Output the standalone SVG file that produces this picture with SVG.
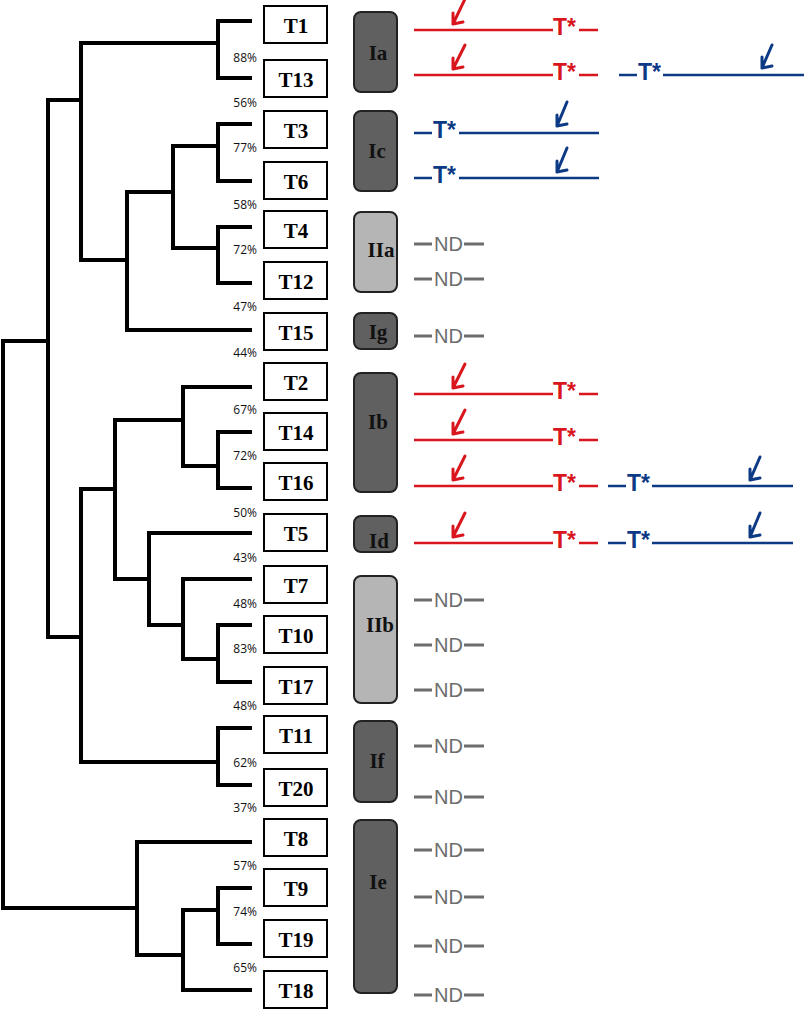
<svg xmlns="http://www.w3.org/2000/svg" width="805" height="1010" viewBox="0 0 805 1010">
<defs>
<style>
.tree{fill:none;stroke:#000;stroke-width:4;stroke-linejoin:miter;stroke-linecap:butt}
.leaf rect{fill:#fff;stroke:#000;stroke-width:2}
.leaf text{font-family:"Liberation Serif",serif;font-weight:bold;font-size:21px;text-anchor:middle;fill:#000}
.pct{font-family:"Open Sans","DejaVu Sans",sans-serif;font-size:12px;text-anchor:end;fill:#111}
.grp rect{stroke:#222;stroke-width:2}
.dark{fill:#606060}
.light{fill:#b5b5b5}
.grp text{font-family:"Liberation Serif",serif;font-weight:bold;font-size:21px;text-anchor:middle;fill:#111}
.red{stroke:#d9161e;fill:none;stroke-width:2.5}
.blue{stroke:#0d3a85;fill:none;stroke-width:2.5}
.arr{stroke-width:3;stroke-linecap:round;stroke-linejoin:round}
.tr{fill:#d9161e;font-family:"Liberation Sans",Arial,sans-serif;font-weight:bold;font-size:23px}
.tb{fill:#0d3a85;font-family:"Liberation Sans",Arial,sans-serif;font-weight:bold;font-size:23px}
.nd{fill:#6d6d6d;font-family:"Liberation Sans",Arial,sans-serif;font-size:20px}
.ndl{stroke:#6d6d6d;stroke-width:3}
</style>
</defs>
<rect width="805" height="1010" fill="#fff"/>
<g id="connectors" class="tree">
<path d="M252,21 H218 V78 H252"/>
<path d="M81,43 H218"/>
<path d="M252,124 H218 V181 H252"/>
<path d="M252,227 H218 V283 H252"/>
<path d="M218,146 H173 V248 H218"/>
<path d="M173,192 H127 V330 H252"/>
<path d="M218,43 H81 V260 H127"/>
<path d="M81,100 H48 V637 H81"/>
<path d="M48,341 H3 V908 H137"/>
<path d="M115,489 H81 V762 H218"/>
<path d="M183,420 H115 V579 H149"/>
<path d="M252,387 H183 V466 H218"/>
<path d="M252,432 H218 V488 H252"/>
<path d="M252,533 H149 V625 H183"/>
<path d="M252,579 H183 V659 H218"/>
<path d="M252,625 H218 V682 H252"/>
<path d="M252,728 H218 V785 H252"/>
<path d="M252,842 H137 V955 H183"/>
<path d="M218,910 H183 V990 H252"/>
<path d="M252,888 H218 V944 H252"/>
</g>
<g id="support">
<text class="pct" x="257" y="62">88%</text>
<text class="pct" x="257" y="107">56%</text>
<text class="pct" x="257" y="152">77%</text>
<text class="pct" x="257" y="209">58%</text>
<text class="pct" x="257" y="254">72%</text>
<text class="pct" x="257" y="311">47%</text>
<text class="pct" x="257" y="357">44%</text>
<text class="pct" x="257" y="414">67%</text>
<text class="pct" x="257" y="460">72%</text>
<text class="pct" x="257" y="517">50%</text>
<text class="pct" x="257" y="562">43%</text>
<text class="pct" x="257" y="608">48%</text>
<text class="pct" x="257" y="653">83%</text>
<text class="pct" x="257" y="710">48%</text>
<text class="pct" x="257" y="767">62%</text>
<text class="pct" x="257" y="812">37%</text>
<text class="pct" x="257" y="870">57%</text>
<text class="pct" x="257" y="916">74%</text>
<text class="pct" x="257" y="972">65%</text>
</g>
<g id="T1" class="leaf"><rect x="264" y="6" width="63" height="37"/><text x="296" y="33">T1</text></g>
<g id="T13" class="leaf"><rect x="264" y="60" width="63" height="37"/><text x="296" y="87">T13</text></g>
<g id="T3" class="leaf"><rect x="264" y="111" width="63" height="37"/><text x="296" y="138">T3</text></g>
<g id="T6" class="leaf"><rect x="264" y="162" width="63" height="37"/><text x="296" y="189">T6</text></g>
<g id="T4" class="leaf"><rect x="264" y="211" width="63" height="37"/><text x="296" y="238">T4</text></g>
<g id="T12" class="leaf"><rect x="264" y="262" width="63" height="37"/><text x="296" y="289">T12</text></g>
<g id="T15" class="leaf"><rect x="264" y="313" width="63" height="37"/><text x="296" y="340">T15</text></g>
<g id="T2" class="leaf"><rect x="264" y="363" width="63" height="37"/><text x="296" y="390">T2</text></g>
<g id="T14" class="leaf"><rect x="264" y="413" width="63" height="37"/><text x="296" y="440">T14</text></g>
<g id="T16" class="leaf"><rect x="264" y="463" width="63" height="37"/><text x="296" y="490">T16</text></g>
<g id="T5" class="leaf"><rect x="264" y="514" width="63" height="37"/><text x="296" y="541">T5</text></g>
<g id="T7" class="leaf"><rect x="264" y="566" width="63" height="37"/><text x="296" y="593">T7</text></g>
<g id="T10" class="leaf"><rect x="264" y="616" width="63" height="37"/><text x="296" y="643">T10</text></g>
<g id="T17" class="leaf"><rect x="264" y="667" width="63" height="37"/><text x="296" y="694">T17</text></g>
<g id="T11" class="leaf"><rect x="264" y="716" width="63" height="37"/><text x="296" y="743">T11</text></g>
<g id="T20" class="leaf"><rect x="264" y="769" width="63" height="37"/><text x="296" y="796">T20</text></g>
<g id="T8" class="leaf"><rect x="264" y="819" width="63" height="37"/><text x="296" y="846">T8</text></g>
<g id="T9" class="leaf"><rect x="264" y="869" width="63" height="37"/><text x="296" y="896">T9</text></g>
<g id="T19" class="leaf"><rect x="264" y="920" width="63" height="37"/><text x="296" y="947">T19</text></g>
<g id="T18" class="leaf"><rect x="264" y="971" width="63" height="37"/><text x="296" y="998">T18</text></g>
<g id="Ia" class="grp"><rect class="dark" x="354" y="12" width="43" height="80" rx="7"/><text x="378" y="60">Ia</text></g>
<g id="Ic" class="grp"><rect class="dark" x="354" y="111" width="43" height="80" rx="7"/><text x="377" y="158">Ic</text></g>
<g id="IIa" class="grp"><rect class="light" x="354" y="212" width="43" height="80" rx="7"/><text x="381" y="257">IIa</text></g>
<g id="Ig" class="grp"><rect class="dark" x="354" y="313" width="43" height="36" rx="7"/><text x="378" y="339">Ig</text></g>
<g id="Ib" class="grp"><rect class="dark" x="354" y="373" width="43" height="119" rx="7"/><text x="378" y="429">Ib</text></g>
<g id="Id" class="grp"><rect class="dark" x="354" y="516" width="43" height="36" rx="7"/><text x="379" y="548">Id</text></g>
<g id="IIb" class="grp"><rect class="light" x="354" y="576" width="43" height="127" rx="7"/><text x="380" y="632">IIb</text></g>
<g id="If" class="grp"><rect class="dark" x="354" y="721" width="43" height="81" rx="7"/><text x="377" y="768">If</text></g>
<g id="Ie" class="grp"><rect class="dark" x="354" y="820" width="43" height="173" rx="7"/><text x="378" y="889">Ie</text></g>
<g id="genes-red">
<g class="red"><path d="M414,30 H553 M579,30 H598"/><path class="arr" d="M465,-1 L453,24 M453,13 L453,24 L463,22"/></g>
<text class="tr" x="553" y="35">T*</text>
<g class="red"><path d="M414,75 H553 M579,75 H598"/><path class="arr" d="M465,45 L453,69 M453,58 L453,69 L463,67"/></g>
<text class="tr" x="553" y="80">T*</text>
<g class="red"><path d="M414,394 H553 M579,394 H598"/><path class="arr" d="M465,364 L453,388 M453,377 L453,388 L463,386"/></g>
<text class="tr" x="553" y="399">T*</text>
<g class="red"><path d="M414,440 H553 M579,440 H598"/><path class="arr" d="M465,410 L453,434 M453,423 L453,434 L463,432"/></g>
<text class="tr" x="553" y="445">T*</text>
<g class="red"><path d="M414,486 H553 M579,486 H598"/><path class="arr" d="M465,456 L453,480 M453,469 L453,480 L463,478"/></g>
<text class="tr" x="553" y="491">T*</text>
<g class="red"><path d="M414,543 H553 M579,543 H598"/><path class="arr" d="M465,513 L453,537 M453,526 L453,537 L463,535"/></g>
<text class="tr" x="553" y="548">T*</text>
</g>
<g id="genes-blue">
<g class="blue"><path d="M414,133 H432 M459,133 H599"/><path class="arr" d="M567,102 L557,126 M557,115 L557,126 L567,124"/></g>
<text class="tb" x="433" y="138">T*</text>
<g class="blue"><path d="M414,178 H432 M459,178 H599"/><path class="arr" d="M567,148 L557,172 M557,161 L557,172 L567,170"/></g>
<text class="tb" x="433" y="183">T*</text>
<g class="blue"><path d="M619,75 H637 M663,75 H804"/><path class="arr" d="M772,45 L762,68 M762,57 L762,68 L772,66"/></g>
<text class="tb" x="638" y="80">T*</text>
<g class="blue"><path d="M608,486 H626 M652,486 H793"/><path class="arr" d="M760,457 L750,480 M750,469 L750,480 L760,478"/></g>
<text class="tb" x="627" y="491">T*</text>
<g class="blue"><path d="M608,543 H626 M652,543 H793"/><path class="arr" d="M760,513 L750,537 M750,526 L750,537 L760,535"/></g>
<text class="tb" x="627" y="548">T*</text>
</g>
<g id="nd">
<path class="ndl" d="M414,244 H432 M464,244 H484 M414,279 H432 M464,279 H484 M414,336 H432 M464,336 H484 M414,600 H432 M464,600 H484 M414,645 H432 M464,645 H484 M414,690 H432 M464,690 H484 M414,746 H432 M464,746 H484 M414,797 H432 M464,797 H484 M414,850 H432 M464,850 H484 M414,897 H432 M464,897 H484 M414,946 H432 M464,946 H484 M414,995 H432 M464,995 H484"/>
<text class="nd" x="434" y="251">ND</text>
<text class="nd" x="434" y="286">ND</text>
<text class="nd" x="434" y="343">ND</text>
<text class="nd" x="434" y="607">ND</text>
<text class="nd" x="434" y="652">ND</text>
<text class="nd" x="434" y="697">ND</text>
<text class="nd" x="434" y="753">ND</text>
<text class="nd" x="434" y="804">ND</text>
<text class="nd" x="434" y="857">ND</text>
<text class="nd" x="434" y="904">ND</text>
<text class="nd" x="434" y="953">ND</text>
<text class="nd" x="434" y="1002">ND</text>
</g>
</svg>
